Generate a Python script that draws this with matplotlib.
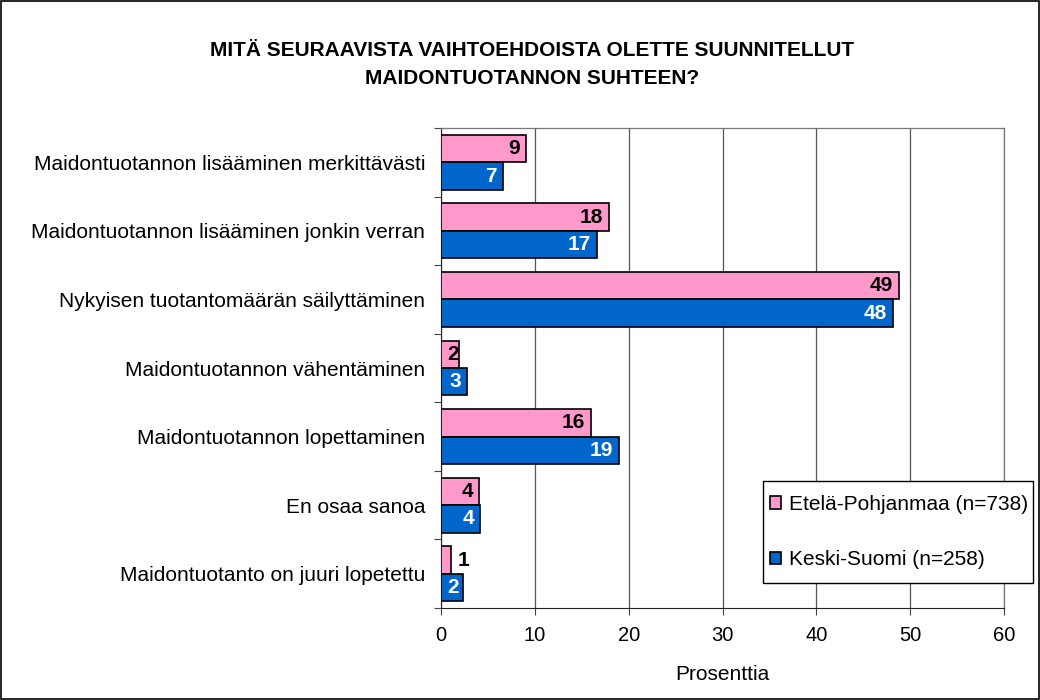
import matplotlib
matplotlib.use("Agg")
import matplotlib.pyplot as plt
import numpy as np
from matplotlib.patches import Rectangle

plt.rcParams['font.family'] = ['Liberation Sans', 'DejaVu Sans']

categories = [
    "Maidontuotannon lisääminen merkittävästi",
    "Maidontuotannon lisääminen jonkin verran",
    "Nykyisen tuotantomäärän säilyttäminen",
    "Maidontuotannon vähentäminen",
    "Maidontuotannon lopettaminen",
    "En osaa sanoa",
    "Maidontuotanto on juuri lopetettu",
]
etela_pohjanmaa = [9.1, 17.9, 48.8, 1.9, 16.0, 4.1, 1.1]
keski_suomi = [6.6, 16.6, 48.2, 2.8, 19.0, 4.2, 2.3]
series_names = ["Etelä-Pohjanmaa (n=738)", "Keski-Suomi (n=258)"]
x_ticks = [0, 10, 20, 30, 40, 50, 60]

pink = "#FF99CC"
blue = "#0066CC"

fig = plt.figure(figsize=(10.4, 7.0), dpi=100)
ax = fig.add_axes([441/1040, 1 - 608/700, (1004-441)/1040, (608-128)/700])

n = len(categories)
y = np.arange(n)
h = 0.4
b1 = ax.barh(y - h/2, etela_pohjanmaa, height=h, color=pink, edgecolor="black", linewidth=1.2, zorder=3)
b2 = ax.barh(y + h/2, keski_suomi, height=h, color=blue, edgecolor="black", linewidth=1.2, zorder=3)

ax.set_ylim(n - 0.5, -0.5)
ax.set_xlim(0, 60)
ax.set_xticks(x_ticks)
ax.set_xticklabels([str(t) for t in x_ticks], fontsize=14.5)
ax.set_yticks(np.arange(n + 1) - 0.5, minor=False)
ax.set_yticklabels([])
ax.set_yticks(y, minor=True)
ax.set_yticklabels(categories, minor=True, fontsize=15)
ax.tick_params(axis='y', which='minor', length=0, pad=11.5)
ax.tick_params(axis='y', which='major', length=5, direction='out', color='#444444')
ax.tick_params(axis='x', length=5, direction='out', color='#444444', pad=8)
ax.grid(axis='x', color='#555555', linewidth=0.9, zorder=0)
for s in ['top', 'right']:
    ax.spines[s].set_color('#777777')
    ax.spines[s].set_linewidth(0.9)
ax.spines['left'].set_color('#222222')
ax.spines['bottom'].set_color('#222222')
ax.set_xlabel("Prosenttia", fontsize=15, labelpad=14)

def label(bars, vals, col):
    for rect, v in zip(bars, vals):
        yc = rect.get_y() + rect.get_height()/2
        txt = f"{v:.0f}"
        if v < 1.5:
            ax.annotate(txt, (v, yc), xytext=(4.5, 0), textcoords='offset points',
                        ha='left', va='center', fontsize=15, fontweight='bold', color='black', zorder=5)
        else:
            off = 0 if v < 2 else (-3 if v < 2.5 else -4.5)
            ax.annotate(txt, (v, yc), xytext=(off, 0), textcoords='offset points',
                        ha='right', va='center', fontsize=15, fontweight='bold', color=col, zorder=5)

label(b1, etela_pohjanmaa, 'black')
label(b2, keski_suomi, 'white')

# legend box (frame drawn separately)
box_x0, box_w = (763-441)/563, 270/563
box_y0, box_h = (608-583)/480, 102/480
ax.add_patch(Rectangle((box_x0, box_y0), box_w, box_h, transform=ax.transAxes,
                       facecolor='white', edgecolor='black', linewidth=1.0,
                       zorder=9, clip_on=False))
leg = ax.legend([b1, b2], series_names, loc='center right',
                bbox_to_anchor=(box_x0 + box_w, box_y0 + box_h/2),
                fontsize=15, frameon=False,
                handlelength=0.55, handleheight=0.55, handletextpad=0.35,
                labelspacing=1.75, borderpad=0.25, borderaxespad=0)
leg.set_zorder(10)

fig.text(532/1040, 1 - 50/700, "MITÄ SEURAAVISTA VAIHTOEHDOISTA OLETTE SUUNNITELLUT",
         ha='center', va='center', fontsize=15, fontweight='bold')
fig.text(532/1040, 1 - 78/700, "MAIDONTUOTANNON SUHTEEN?",
         ha='center', va='center', fontsize=15, fontweight='bold')

fig.patches.append(Rectangle((0.001, 0.001), 0.998, 0.998, transform=fig.transFigure,
                             fill=False, edgecolor='black', linewidth=1.2))

fig.savefig("out.png", dpi=100)
